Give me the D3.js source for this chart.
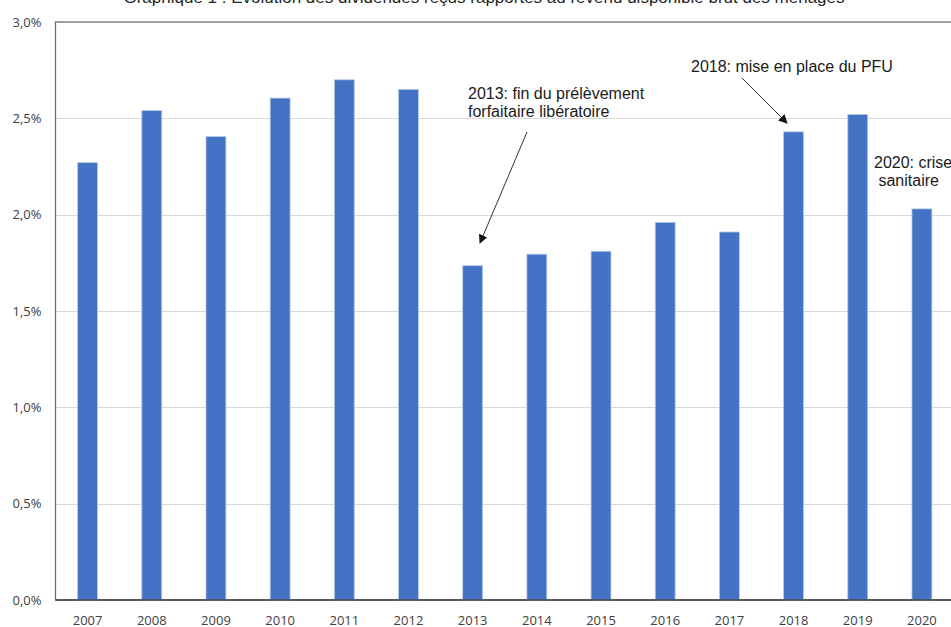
<!DOCTYPE html>
<html>
<head>
<meta charset="utf-8">
<script src="https://cdn.jsdelivr.net/npm/d3@7"></script>
<style>
  html, body { margin: 0; padding: 0; background: #fff; overflow: hidden; }
</style>
</head>
<body>
<div id="chart"></div>
<script>
// data
const years = ["2007", "2008", "2009", "2010", "2011", "2012", "2013",
               "2014", "2015", "2016", "2017", "2018", "2019", "2020"];
const values = [2.27, 2.54, 2.405, 2.605, 2.70, 2.65, 1.735,
                1.795, 1.81, 1.96, 1.91, 2.43, 2.52, 2.03];
const yTicks = [0, 0.5, 1.0, 1.5, 2.0, 2.5, 3.0];
const title = "Graphique 1 : Évolution des dividendes reçus rapportés au revenu disponible brut des ménages";
const notes = [
  { lines: ["2013: fin du prélèvement", "forfaitaire libératoire"], x: 468, y: 99, from: [527, 132], to: [480, 243] },
  { lines: ["2018: mise en place du PFU"], x: 691, y: 72, from: [742, 78], to: [787, 123] },
  { lines: ["2020: crise", " sanitaire"], x: 874, y: 168 }
];

function drawChart() {
  const width = 951;
  const height = 627;
  const left = 55.5, right = 954, top = 22, bottom = 600;

  const svg = d3.select("#chart")
    .append("svg")
    .attr("width", width)
    .attr("height", height);

  const x = d3.scaleBand()
    .domain(years)
    .range([left, right])
    .paddingInner(0.69)
    .paddingOuter(0.345);

  const y = d3.scaleLinear()
    .domain([0, 3])
    .range([bottom, top]);

  // title, cut off at the top of the picture
  svg.append("text")
    .attr("x", 484)
    .attr("y", 3)
    .attr("text-anchor", "middle")
    .style("font-family", "'Liberation Sans', Arial, sans-serif")
    .style("font-size", "17px")
    .attr("fill", "#262626")
    .text(title);

  // gridlines
  svg.append("g")
    .selectAll("line")
    .data(yTicks.filter(d => d > 0 && d < 3))
    .join("line")
    .attr("x1", left)
    .attr("x2", right)
    .attr("y1", d => Math.round(y(d)) + 0.5)
    .attr("y2", d => Math.round(y(d)) + 0.5)
    .attr("stroke", "#d9d9d9")
    .attr("stroke-width", 1.2);

  // plot area border
  svg.append("rect")
    .attr("x", left)
    .attr("y", top)
    .attr("width", right - left)
    .attr("height", bottom - top)
    .attr("fill", "none")
    .attr("stroke", "#6f6f6f")
    .attr("stroke-width", 1.3);

  // bars
  svg.append("g")
    .selectAll("rect")
    .data(values)
    .join("rect")
    .attr("x", (d, i) => x(years[i]))
    .attr("y", d => y(d))
    .attr("width", x.bandwidth())
    .attr("height", d => y(0) - y(d))
    .attr("fill", "#4472c4")
    .attr("stroke", "#b4c7e7")
    .attr("stroke-width", 0.8);

  // bottom axis line
  svg.append("line")
    .attr("x1", left)
    .attr("x2", right)
    .attr("y1", bottom)
    .attr("y2", bottom)
    .attr("stroke", "#404040")
    .attr("stroke-width", 1.5);

  const fmt = d => d3.format(".1f")(d).replace(".", ",") + "%";

  const yAxis = svg.append("g")
    .attr("transform", `translate(${left},0)`)
    .call(d3.axisLeft(y).tickValues(yTicks).tickFormat(fmt).tickSize(0).tickPadding(14));
  yAxis.select(".domain").remove();

  const xAxis = svg.append("g")
    .attr("transform", `translate(0,${bottom})`)
    .call(d3.axisBottom(x).tickSize(0).tickPadding(15.5));
  xAxis.select(".domain").remove();

  svg.selectAll(".tick text")
    .style("font-family", "'Open Sans', sans-serif")
    .style("font-size", "13px")
    .attr("fill", "#404040");

  // annotations
  svg.append("defs")
    .append("marker")
    .attr("id", "arrow")
    .attr("viewBox", "0 0 10 10")
    .attr("refX", 9)
    .attr("refY", 5)
    .attr("markerWidth", 9)
    .attr("markerHeight", 9)
    .attr("markerUnits", "userSpaceOnUse")
    .attr("orient", "auto")
    .append("path")
    .attr("d", "M0,0L10,5L0,10Z")
    .attr("fill", "#111");

  notes.filter(n => n.from).forEach(n => {
    svg.append("line")
      .attr("x1", n.from[0])
      .attr("y1", n.from[1])
      .attr("x2", n.to[0])
      .attr("y2", n.to[1])
      .attr("stroke", "#333")
      .attr("stroke-width", 1)
      .attr("marker-end", "url(#arrow)");
  });

  notes.forEach(n => {
    const t = svg.append("text")
      .attr("x", n.x)
      .attr("y", n.y)
      .style("font-family", "'Liberation Sans', Arial, sans-serif")
      .style("font-size", "16px")
      .style("white-space", "pre")
      .attr("fill", "#1a1a1a");
    t.selectAll("tspan")
      .data(n.lines)
      .join("tspan")
      .attr("x", n.x)
      .attr("dy", (d, i) => i === 0 ? 0 : 18)
      .text(d => d);
  });
}

drawChart();
</script>
</body>
</html>
